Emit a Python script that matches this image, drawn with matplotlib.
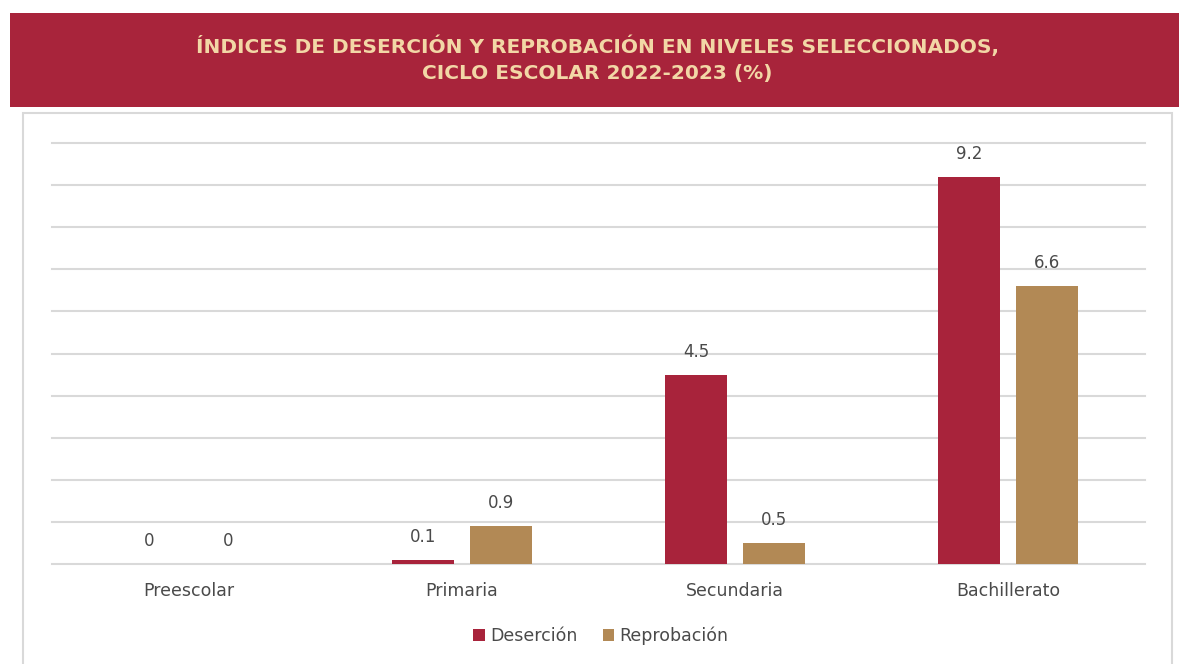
import matplotlib
matplotlib.use("Agg")
import matplotlib.pyplot as plt
from matplotlib.patches import Rectangle
import numpy as np

categories = ["Preescolar", "Primaria", "Secundaria", "Bachillerato"]
desercion = [0, 0.1, 4.5, 9.2]
reprobacion = [0, 0.9, 0.5, 6.6]
value_labels_d = ["0", "0.1", "4.5", "9.2"]
value_labels_r = ["0", "0.9", "0.5", "6.6"]
series_names = ["Deserción", "Reprobación"]
title_lines = ["ÍNDICES DE DESERCIÓN Y REPROBACIÓN EN NIVELES SELECCIONADOS,",
               "CICLO ESCOLAR 2022-2023 (%)"]

RED = "#A8233B"
GOLD = "#B28955"
BANNER = "#A8243B"
TITLE_COLOR = "#F2D7A6"
TEXT = "#4A4A4A"
GRID = "#D9D9D9"

plt.rcParams['font.family'] = ['DejaVu Sans']

W, H = 1179, 664
fig = plt.figure(figsize=(W / 100, H / 100), dpi=100)
fig.patch.set_facecolor("white")

# Banner
fig.patches.append(Rectangle((10 / W, 1 - 107 / H), (W - 10) / W, 94 / H,
                             transform=fig.transFigure, facecolor=BANNER,
                             edgecolor="none", zorder=0))
fig.text(597 / W, 1 - 46 / H, title_lines[0], ha="center", va="center",
         color=TITLE_COLOR, fontsize=14.5, fontweight="bold")
fig.text(597 / W, 1 - 74 / H, title_lines[1], ha="center", va="center",
         color=TITLE_COLOR, fontsize=14.5, fontweight="bold")

# Chart border
fig.patches.append(Rectangle((23 / W, -0.05), (1172 - 23) / W, 1 - 113 / H + 0.05,
                             transform=fig.transFigure, facecolor="none",
                             edgecolor=GRID, linewidth=1.5, zorder=0))

ax = fig.add_axes([52 / W, 1 - 564 / H, (1145 - 52) / W, (564 - 143) / H])
ax.set_facecolor("none")
x = np.arange(len(categories))
bw = 0.227
off = 0.143
b1 = ax.bar(x - off, desercion, bw, color=RED, label=series_names[0], zorder=3)
b2 = ax.bar(x + off, reprobacion, bw, color=GOLD, label=series_names[1], zorder=3)

ax.set_xlim(-0.5, len(categories) - 0.5)
ax.set_ylim(0, 10)
ax.set_yticks(np.arange(0, 11, 1))
ax.yaxis.grid(True, color=GRID, linewidth=1.5, zorder=0)
for gl in ax.get_ygridlines():
    gl.set_clip_on(False)
ax.tick_params(axis="y", length=0, labelleft=False)
ax.tick_params(axis="x", length=0, labelsize=12.5, labelcolor=TEXT, pad=13)
ax.set_xticks(x)
ax.set_xticklabels(categories)
for s in ax.spines.values():
    s.set_visible(False)

for bars, labels in ((b1, value_labels_d), (b2, value_labels_r)):
    for rect, lab in zip(bars, labels):
        ax.annotate(lab, (rect.get_x() + rect.get_width() / 2, rect.get_height()),
                    xytext=(0, 10), textcoords="offset points", ha="center",
                    va="bottom", fontsize=12, color=TEXT)

leg = fig.legend(handles=[b1, b2], loc="center", bbox_to_anchor=(601 / W, 1 - 636 / H),
                 ncol=2, frameon=False, fontsize=12.5, handlelength=0.65, handleheight=0.65,
                 handletextpad=0.3, columnspacing=1.5)
for t in leg.get_texts():
    t.set_color(TEXT)

fig.savefig("out.png", dpi=100, facecolor="white")
